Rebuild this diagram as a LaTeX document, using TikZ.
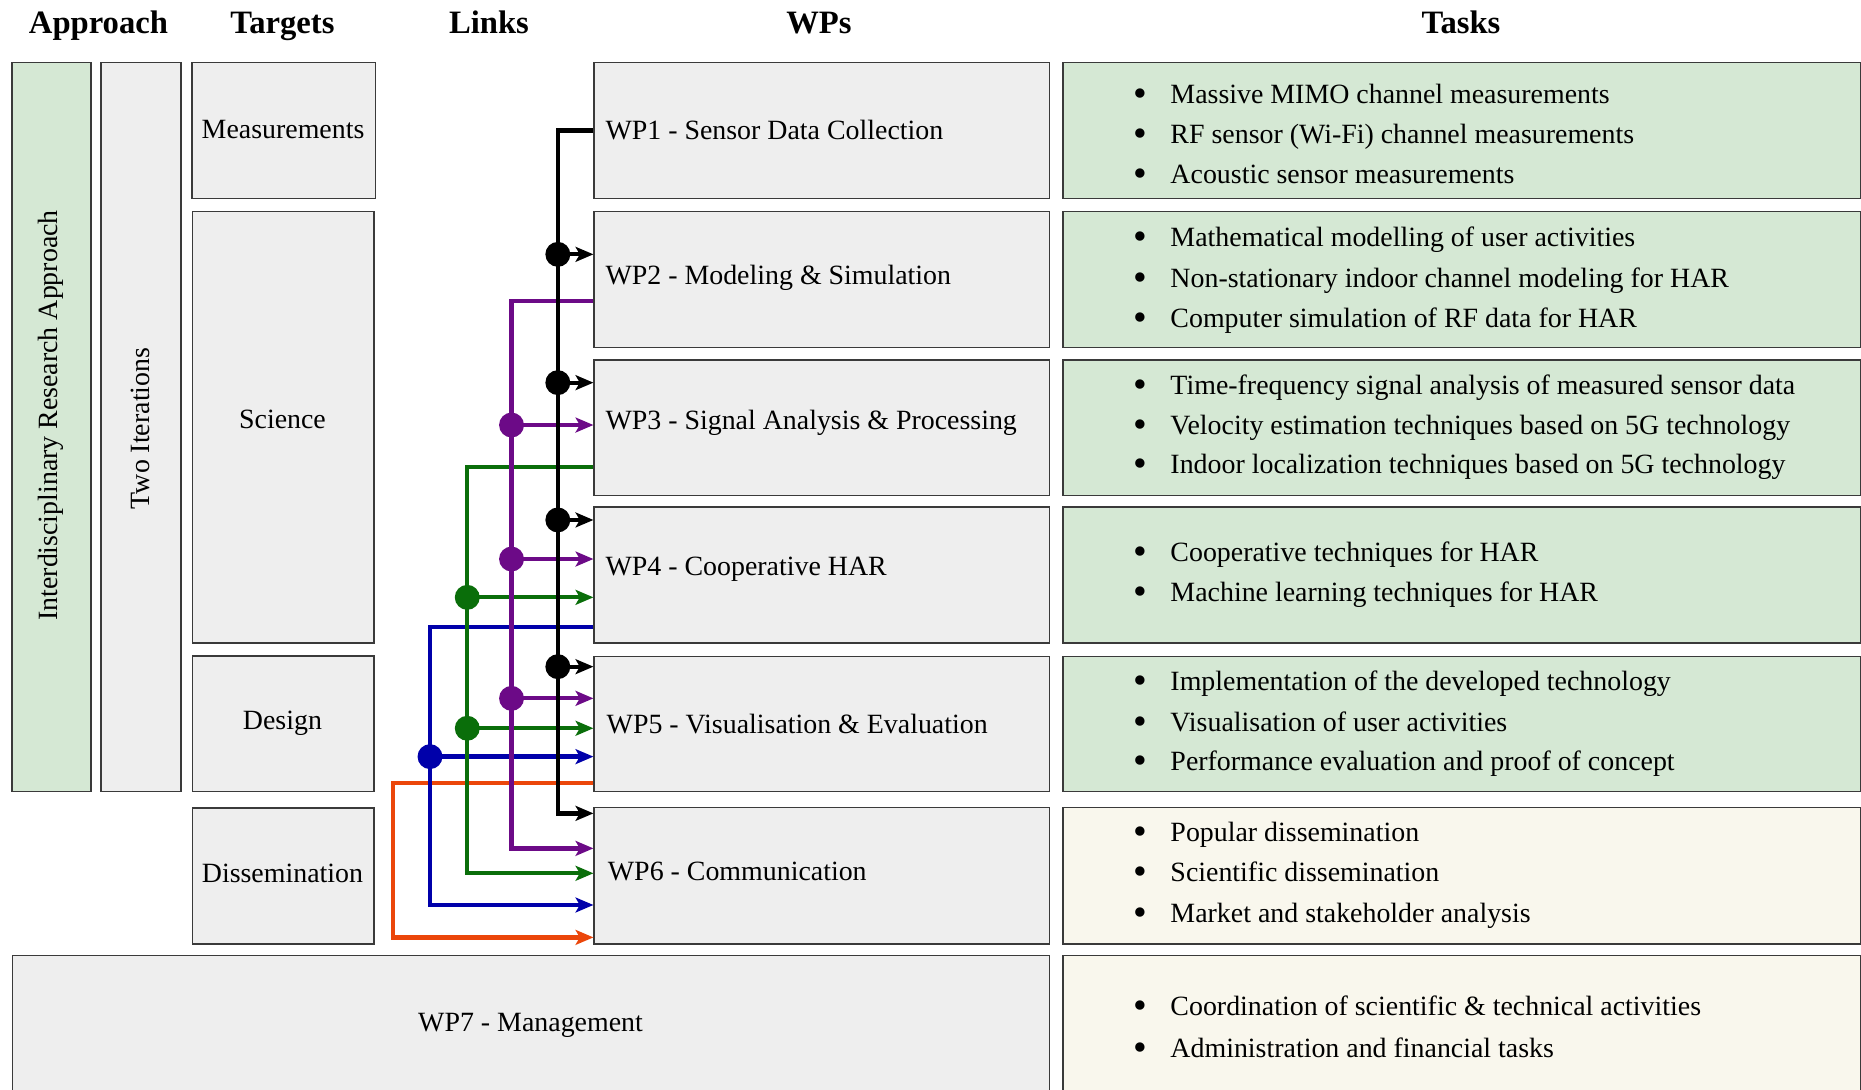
\documentclass[tikz,border=0pt]{standalone}
\usepackage{fontspec}
\setmainfont{Liberation Serif}
\usetikzlibrary{arrows.meta,calc}

\definecolor{boxgray}{HTML}{EEEEEE}
\definecolor{boxgreen}{HTML}{D5E8D4}
\definecolor{boxcream}{HTML}{F9F7ED}
\definecolor{edgegray}{HTML}{3A3A3A}
\definecolor{lkpurple}{RGB}{108,10,135}
\definecolor{lkgreen}{RGB}{10,110,10}
\definecolor{lkblue}{RGB}{0,0,170}
\definecolor{lkorange}{RGB}{235,70,10}

\begin{document}
\begin{tikzpicture}[x=1pt,y=-1pt,
  font=\fontsize{23.5pt}{28pt}\selectfont,
  box/.style={draw=edgegray,line width=1.2pt,inner sep=0pt,anchor=north west},
  graybox/.style={box,fill=boxgray},
  greenbox/.style={box,fill=boxgreen},
  creambox/.style={box,fill=boxcream},
  hd/.style={anchor=base,font=\fontsize{27.5pt}{32pt}\selectfont\bfseries},
  wptxt/.style={anchor=base west,inner sep=0pt},
  bul/.style={anchor=base,inner sep=0pt,font=\fontsize{33pt}{33pt}\selectfont},
  tsk/.style={anchor=base west,inner sep=0pt},
  link/.style={line width=3.6pt,draw=#1},
  tip/.style={-{Stealth[length=15pt,width=12.5pt,inset=3.5pt]}},
  dot/.style={fill=#1}
]
\clip (0,0) rectangle (1568,918);
\fill[white] (0,0) rectangle (1568,918);

% column headings
\node[hd] (hApproach) at (83,28)   {Approach};
\node[hd] (hTargets)  at (238,28)  {Targets};
\node[hd] (hLinks)    at (412,28)  {Links};
\node[hd] (hWPs)      at (690,28)  {WPs};
\node[hd] (hTasks)    at (1231,28) {Tasks};

% approach and iteration columns
\node[greenbox,minimum width=66.5pt,minimum height=614.4pt] (approach) at (9.5,52) {};
\node[rotate=90] (approachT) at (42.5,350) {Interdisciplinary Research Approach};
\node[graybox,minimum width=67.5pt,minimum height=614.4pt] (iter) at (84.5,52) {};
\node[rotate=90] (iterT) at (118.3,361) {Two Iterations};

% targets
\node[graybox,minimum width=155pt,minimum height=114.5pt] (meas) at (161,52) {};
\node (measT) at (238.5,109) {Measurements};
\node[graybox,minimum width=153pt,minimum height=363.7pt] (sci) at (161.5,177.5) {};
\node (sciT) at (238,353) {Science};
\node[graybox,minimum width=153pt,minimum height=114.2pt] (des) at (161.5,552.2) {};
\node (desT) at (238,609) {Design};
\node[graybox,minimum width=153pt,minimum height=114.8pt] (diss) at (161.5,680) {};
\node (dissT) at (238,736) {Dissemination};

% work packages
\node[graybox,minimum width=383.5pt,minimum height=114.5pt] (wp1) at (500,52) {};
\node[graybox,minimum width=383.5pt,minimum height=114.5pt] (wp2) at (500,177.5) {};
\node[graybox,minimum width=383.5pt,minimum height=114.3pt] (wp3) at (500,302.7) {};
\node[graybox,minimum width=383.5pt,minimum height=114.8pt] (wp4) at (500,426.4) {};
\node[graybox,minimum width=383.5pt,minimum height=114pt]   (wp5) at (500,552.4) {};
\node[graybox,minimum width=383.5pt,minimum height=115pt]   (wp6) at (500,679.8) {};
\node[graybox,minimum width=873.5pt,minimum height=130pt]   (wp7) at (10,804.6) {};

\node[wptxt] (wp1T) at (510,117.5) {WP1 - Sensor Data Collection};
\node[wptxt] (wp2T) at (510,240) {WP2 - Modeling \& Simulation};
\node[wptxt] (wp3T) at (510,362) {WP3 - Signal Analysis \& Processing};
\node[wptxt] (wp4T) at (510,485) {WP4 - Cooperative HAR};
\node[wptxt] (wp5T) at (511,618) {WP5 - Visualisation \& Evaluation};
\node[wptxt] (wp6T) at (512,742) {WP6 - Communication};
\node (wp7T) at (447,864) {WP7 - Management};

% task boxes
\node[greenbox,minimum width=672pt,minimum height=114.5pt] (tk1) at (895,52) {};
\node[greenbox,minimum width=672pt,minimum height=114.5pt] (tk2) at (895,177.5) {};
\node[greenbox,minimum width=672pt,minimum height=114.3pt] (tk3) at (895,302.7) {};
\node[greenbox,minimum width=672pt,minimum height=114.8pt] (tk4) at (895,426.4) {};
\node[greenbox,minimum width=672pt,minimum height=114pt]   (tk5) at (895,552.4) {};
\node[creambox,minimum width=672pt,minimum height=115pt]   (tk6) at (895,679.8) {};
\node[creambox,minimum width=672pt,minimum height=130pt]   (tk7) at (895,804.6) {};

% task lists
\foreach \yy/\txt [count=\n] in {
  87/Massive MIMO channel measurements,
  121/RF sensor (Wi-Fi) channel measurements,
  155/Acoustic sensor measurements,
  208/Mathematical modelling of user activities,
  242/Non-stationary indoor channel modeling for HAR,
  276/Computer simulation of RF data for HAR,
  332/Time-frequency signal analysis of measured sensor data,
  366/Velocity estimation techniques based on 5G technology,
  399/Indoor localization techniques based on 5G technology,
  473/Cooperative techniques for HAR,
  507/Machine learning techniques for HAR,
  582/Implementation of the developed technology,
  616/Visualisation of user activities,
  649/Performance evaluation and proof of concept,
  709/Popular dissemination,
  743/Scientific dissemination,
  777/Market and stakeholder analysis,
  856/Coordination of scientific \& technical activities,
  891/Administration and financial tasks}
{
  \node[bul] (bullet\n) at (961,\yy+2.5) {\textbullet};
  \node[tsk] (task\n) at (986,\yy) {\txt};
}

% link junctions
\coordinate (k2) at (470,214.3);
\coordinate (k3) at (470,322.4);
\coordinate (k4) at (470,438.1);
\coordinate (k5) at (470,561.7);
\coordinate (k6) at (470,685.3);

\coordinate (p0) at (431,253.6);
\coordinate (p3) at (431,358.1);
\coordinate (p4) at (431,471);
\coordinate (p5) at (431,588.4);
\coordinate (p6) at (431,714.8);

\coordinate (g0) at (393.7,393.2);
\coordinate (g4) at (393.7,503.3);
\coordinate (g5) at (393.7,613.6);
\coordinate (g6) at (393.7,735.8);

\coordinate (b0) at (362.3,528.3);
\coordinate (b5) at (362.3,637.5);
\coordinate (b6) at (362.3,762.5);

\coordinate (o0) at (331.4,660);
\coordinate (o6) at (331.4,789.8);

% WP5 feeds WP6
\draw[link=lkorange,tip] (o0 -| wp5.west) -- (o0) -- (o6) -- (o6 -| wp6.west);

% WP4 feeds WP5 and WP6
\draw[link=lkblue,tip] (b0 -| wp4.west) -- (b0) -- (b6) -- (b6 -| wp6.west);
\draw[link=lkblue,tip] (b5) -- (b5 -| wp5.west);
\fill[dot=lkblue] (b5) circle[radius=10.5pt];

% WP3 feeds WP4 to WP6
\draw[link=lkgreen,tip] (g0 -| wp3.west) -- (g0) -- (g6) -- (g6 -| wp6.west);
\draw[link=lkgreen,tip] (g4) -- (g4 -| wp4.west);
\draw[link=lkgreen,tip] (g5) -- (g5 -| wp5.west);
\fill[dot=lkgreen] (g4) circle[radius=10.5pt];
\fill[dot=lkgreen] (g5) circle[radius=10.5pt];

% WP2 feeds WP3 to WP6
\draw[link=lkpurple,tip] (p0 -| wp2.west) -- (p0) -- (p6) -- (p6 -| wp6.west);
\draw[link=lkpurple,tip] (p3) -- (p3 -| wp3.west);
\draw[link=lkpurple,tip] (p4) -- (p4 -| wp4.west);
\draw[link=lkpurple,tip] (p5) -- (p5 -| wp5.west);
\fill[dot=lkpurple] (p3) circle[radius=10.5pt];
\fill[dot=lkpurple] (p4) circle[radius=10.5pt];
\fill[dot=lkpurple] (p5) circle[radius=10.5pt];

% WP1 feeds WP2 to WP6
\draw[link=black,tip] (wp1.west) -| (k6) -- (k6 -| wp6.west);
\draw[link=black,tip] (k2) -- (k2 -| wp2.west);
\draw[link=black,tip] (k3) -- (k3 -| wp3.west);
\draw[link=black,tip] (k4) -- (k4 -| wp4.west);
\draw[link=black,tip] (k5) -- (k5 -| wp5.west);
\fill[dot=black] (k2) circle[radius=10.5pt];
\fill[dot=black] (k3) circle[radius=10.5pt];
\fill[dot=black] (k4) circle[radius=10.5pt];
\fill[dot=black] (k5) circle[radius=10.5pt];
\end{tikzpicture}
\end{document}
